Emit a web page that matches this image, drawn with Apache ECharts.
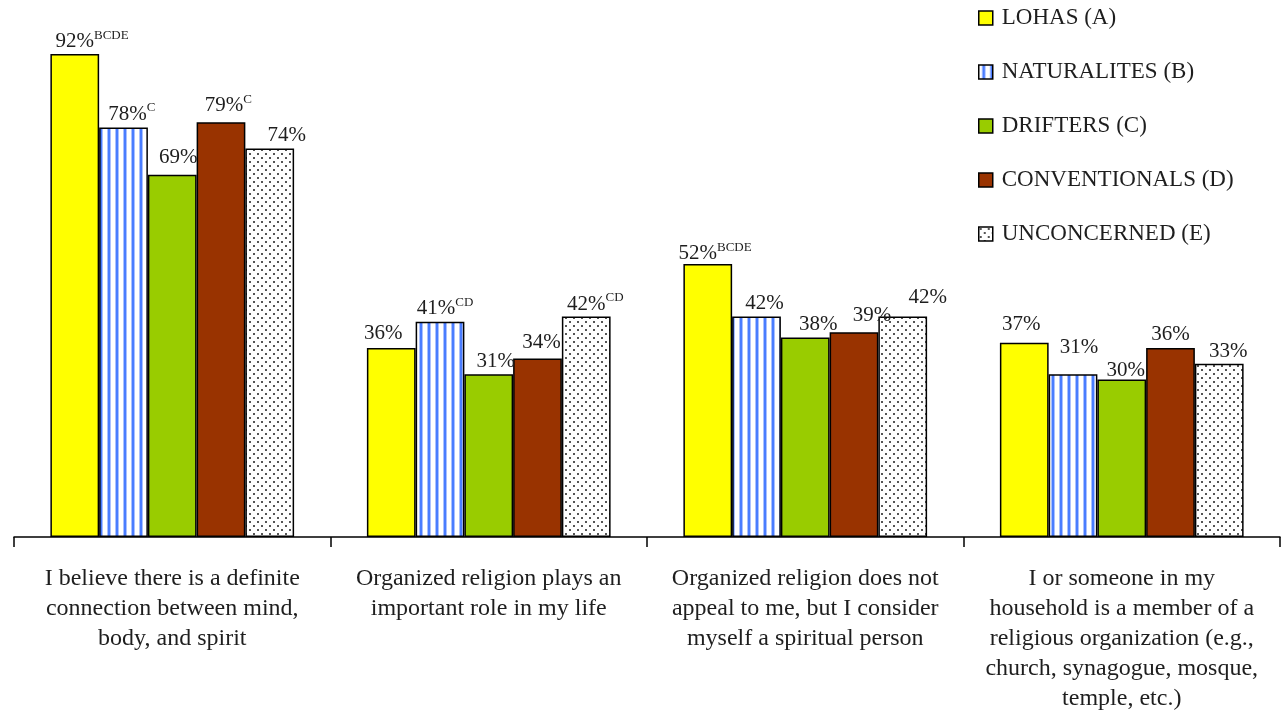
<!DOCTYPE html>
<html>
<head>
<meta charset="utf-8">
<script src="https://cdn.jsdelivr.net/npm/echarts@6/dist/echarts.min.js"></script>
<style>
  html, body { margin: 0; padding: 0; background: #fff; }
  #chart { width: 1285px; height: 716px; }
</style>
</head>
<body>
<div id="chart"></div>
<script>
// Statements (x categories)
const categories = [
  'I believe there is a definite\nconnection between mind,\nbody, and spirit',
  'Organized religion plays an\nimportant role in my life',
  'Organized religion does not\nappeal to me, but I consider\nmyself a spiritual person',
  'I or someone in my\nhousehold is a member of a\nreligious organization (e.g.,\nchurch, synagogue, mosque,\ntemple, etc.)'
];

// Segment names
const seriesNames = ['LOHAS (A)', 'NATURALITES (B)', 'DRIFTERS (C)', 'CONVENTIONALS (D)', 'UNCONCERNED (E)'];

// Percent agreeing, per segment
const lohas        = [92, 36, 52, 37];
const naturalites  = [78, 41, 42, 31];
const drifters     = [69, 31, 38, 30];
const conventional = [79, 34, 39, 36];
const unconcerned  = [74, 42, 42, 33];

// Significance letters shown as superscripts next to each value
const lohasSig        = ['BCDE', '', 'BCDE', ''];
const naturalitesSig  = ['C', 'CD', '', ''];
const driftersSig     = ['', '', '', ''];
const conventionalSig = ['C', '', '', ''];
const unconcernedSig  = ['', 'CD', '', ''];

const values = [lohas, naturalites, drifters, conventional, unconcerned];
const sigs = [lohasSig, naturalitesSig, driftersSig, conventionalSig, unconcernedSig];

// Hand-placed value labels: [dx, dy] nudges per series and category
const labelNudge = [
  [[0, 3], [-8, -1], [-10, 5], [-3, -5]],
  [[4, 2], [-4, 2], [8, 0], [6, -13]],
  [[6, -4], [7, 1], [13, 0], [4, 4]],
  [[3, -1], [4, -3], [18, -3], [0, 0]],
  [[17, 0], [0, 3], [25, -6], [9, 1]]
];

// Fill patterns
function stripePattern() {
  const c = document.createElement('canvas');
  c.width = 8; c.height = 8;
  const g = c.getContext('2d');
  g.fillStyle = '#ffffff'; g.fillRect(0, 0, 8, 8);
  g.fillStyle = '#a9c0ff'; g.fillRect(3, 0, 1, 8); g.fillRect(6, 0, 1, 8);
  g.fillStyle = '#4a7dff'; g.fillRect(4, 0, 2, 8);
  return { image: c, repeat: 'repeat' };
}
function dotPattern() {
  const c = document.createElement('canvas');
  c.width = 8; c.height = 8;
  const g = c.getContext('2d');
  g.fillStyle = '#ffffff'; g.fillRect(0, 0, 8, 8);
  g.fillStyle = '#555555';
  g.fillRect(1, 1, 2, 2);
  g.fillRect(5, 5, 2, 2);
  return { image: c, repeat: 'repeat' };
}

const fills = ['#ffff00', stripePattern(), '#99cc00', '#993300', dotPattern()];
const font = '"Liberation Serif", "DejaVu Serif", serif';
const ink = '#1e1e1e';

const series = seriesNames.map((name, si) => ({
  name: name,
  type: 'bar',
  barGap: '0%',
  barCategoryGap: '23%',
  data: values[si].map((v, i) => ({
    value: v,
    sig: sigs[si][i],
    label: { offset: labelNudge[si][i] }
  })),
  itemStyle: { color: fills[si], borderColor: '#000', borderWidth: 1.5 },
  label: {
    show: true,
    position: 'top',
    distance: 3,
    formatter: p => {
      const s = p.data.sig;
      return s ? '{g|' + s + '}{v|' + p.value + '%}{s|' + s + '}' : '{v|' + p.value + '%}';
    },
    rich: {
      v: { fontFamily: font, fontSize: 21, color: ink },
      s: { fontFamily: font, fontSize: 13, color: ink, verticalAlign: 'top', padding: [0, 0, 12, 0] },
      g: { fontFamily: font, fontSize: 13, color: 'transparent', padding: [0, 0, 12, 0] }
    }
  }
}));

const chart = echarts.init(document.getElementById('chart'));
chart.setOption({
  animation: false,
  backgroundColor: '#ffffff',
  grid: { left: 14, right: 5, top: 12, bottom: 179, containLabel: false },
  legend: {
    orient: 'vertical',
    left: 973,
    top: 0,
    itemWidth: 14,
    itemHeight: 14,
    itemGap: 28,
    icon: 'rect',
    itemStyle: { borderColor: '#000', borderWidth: 1.5 },
    textStyle: { fontFamily: font, fontSize: 23, color: ink, lineHeight: 26, padding: [0, 0, 0, 4] },
    data: seriesNames
  },
  xAxis: {
    type: 'category',
    data: categories,
    axisLine: { lineStyle: { color: '#000', width: 1.5 } },
    axisTick: { show: true, length: 10, alignWithLabel: false, lineStyle: { color: '#000', width: 1.5 } },
    axisLabel: {
      interval: 0,
      margin: 27,
      fontFamily: font,
      fontSize: 24,
      lineHeight: 30,
      color: ink,
      align: 'center'
    }
  },
  yAxis: { type: 'value', min: 0, max: 100, show: false },
  series: series
});
</script>
</body>
</html>
